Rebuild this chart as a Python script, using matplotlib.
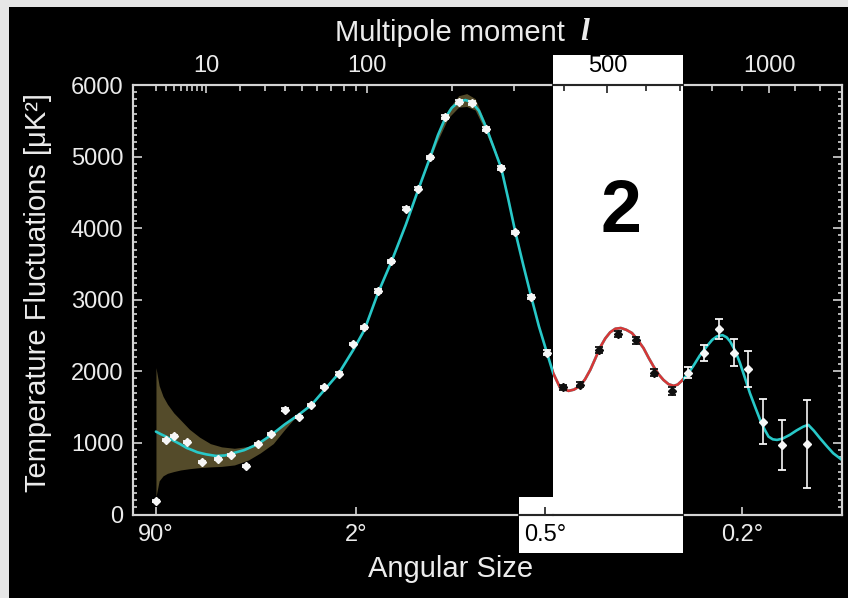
import numpy as np
import matplotlib
matplotlib.use("Agg")
import matplotlib.pyplot as plt
from matplotlib.lines import TICKDOWN, TICKUP
from matplotlib.patches import Polygon, Rectangle
from matplotlib.ticker import MultipleLocator, NullLocator

plt.rcParams['font.family'] = ['Liberation Sans', 'DejaVu Sans']

# best-fit model curve
curve_l = [2, 2.5, 3, 4, 5, 6, 7, 8, 10, 12.5,
           15, 17, 21.5, 27, 33, 40, 48, 56, 65, 76,
           88, 98, 111, 125, 141, 155, 171, 181, 191, 200,
           210, 220, 230, 241, 253, 265, 278, 290, 303, 318,
           333, 348, 364, 377, 392, 410, 422, 436, 447, 459,
           471, 483, 495, 507, 520, 534, 548, 563, 578, 594,
           608, 622, 636, 650, 665, 680, 692, 705, 722, 740,
           760, 782, 800, 815, 834, 848, 860, 877, 894, 912,
           929, 948, 966, 982, 997, 1013, 1029, 1050, 1078, 1105,
           1132, 1152, 1175, 1200, 1230, 1256, 1294]
curve_dl = [1158, 1120, 1090, 1030, 980, 930, 900, 870, 840, 818,
            825, 850, 900, 985, 1110, 1260, 1395, 1531, 1741, 1975,
            2301, 2580, 3094, 3534, 4050, 4515, 5000, 5300, 5540, 5680,
            5765, 5790, 5760, 5640, 5400, 5130, 4840, 4420, 3950, 3480,
            3040, 2630, 2263, 1975, 1765, 1727, 1745, 1800, 1890, 2020,
            2180, 2340, 2460, 2545, 2595, 2605, 2580, 2535, 2440, 2325,
            2190, 2067, 1960, 1880, 1820, 1797, 1815, 1871, 1960, 2077,
            2220, 2347, 2440, 2487, 2506, 2475, 2417, 2290, 2115, 1900,
            1695, 1500, 1322, 1190, 1088, 1050, 1042, 1060, 1112, 1175,
            1228, 1252, 1170, 1066, 950, 856, 762]

# cosmic variance band at low l
band_l = [2, 2.3, 2.7, 3.2, 4, 5, 6.5, 8.5, 11, 14, 18, 23, 28, 34, 40, 46]
band_hi = [2053, 1800, 1650, 1540, 1420, 1320, 1190, 1080, 990, 945, 925, 950, 1010, 1140, 1280, 1380]
band_lo = [249, 470, 540, 575, 600, 622, 640, 655, 665, 672, 692, 760, 860, 990, 1190, 1360]

# band around the first peak
peak_l = [160, 180, 195, 210, 222, 235, 250, 265, 280]
peak_hi = [4720, 5290, 5660, 5850, 5880, 5810, 5500, 5160, 4820]
peak_lo = [4680, 5210, 5540, 5690, 5700, 5650, 5380, 5080, 4780]

# binned measurements
data_l = [2, 3, 4, 6, 9, 13, 17, 22, 27, 33,
          40, 48, 56, 65, 76, 88, 98, 111, 125, 141,
          155, 171, 191, 210, 230, 253, 278, 303, 333, 364,
          398, 436, 479, 526, 574, 624, 675, 724, 775, 824,
          874, 922, 975, 1049, 1148]
data_dl = [193, 1038, 1098, 1010, 730, 776, 832, 683, 982, 1130,
           1466, 1368, 1527, 1783, 1969, 2380, 2613, 3126, 3536, 4273,
           4552, 4990, 5555, 5765, 5751, 5387, 4842, 3941, 3038, 2263,
           1779, 1816, 2301, 2524, 2431, 1983, 1731, 1983, 2254, 2590,
           2263, 2035, 1298, 972, 986]
data_err = [15, 15, 15, 15, 15, 15, 15, 15, 15, 15,
            15, 15, 15, 15, 15, 15, 15, 25, 25, 25,
            25, 25, 25, 25, 25, 25, 25, 25, 25, 30,
            35, 35, 40, 40, 45, 50, 55, 77, 112, 140,
            193, 250, 320, 345, 618]

bottom_ticks = [2, 90, 360, 900]
bottom_labels = ['90°', '2°', '0.5°', '0.2°']
top_ticks = [10, 100, 500, 1000]
top_labels = ['10', '100', '500', '1000']
top_minor = [2, 3, 4, 5, 6, 7, 8, 9, 20, 30, 40, 50, 60, 70, 80, 90,
             200, 300, 400, 600, 700, 800, 900, 1100, 1200]

CYAN = '#28c8c8'
RED = '#d73737'
BAND = '#544b2a'
LIGHT = '#d4d4d4'
DARK = '#262626'
W, H = 848, 598
XLIM = (0.53, 1294)


def fwd(x):
    return np.sign(x) * np.abs(x) ** 0.4


def inv(x):
    return np.sign(x) * np.abs(x) ** 2.5


def px_rect(x0, x1, y0, y1):
    # pixel box (y down from the top) -> figure fraction rect
    return [x0 / W, 1 - y1 / H, (x1 - x0) / W, (y1 - y0) / H]


fig = plt.figure(figsize=(W / 100, H / 100), dpi=100, facecolor='#e6e6e6')
fig.add_artist(Rectangle((9 / W, 0), 1, 1 - 7 / H, transform=fig.transFigure,
                         facecolor='black', edgecolor='none', zorder=-3))

# the colour-inverted highlight around the second peak
box_px = [(519, 497), (553, 497), (553, 55), (683, 55), (683, 553), (519, 553)]
box = Polygon([(x / W, 1 - y / H) for x, y in box_px], closed=True,
              transform=fig.transFigure, facecolor='white', edgecolor='none', zorder=-2)
fig.add_artist(box)

# main plot
ax = fig.add_axes(px_rect(133, 842, 85, 514.5))
ax.set_facecolor('none')
ax.set_xscale('function', functions=(fwd, inv))
top = ax.twiny()
top.set_xscale('function', functions=(fwd, inv))

ax.set_xticks(bottom_ticks, bottom_labels)
ax.xaxis.set_minor_locator(NullLocator())
ax.yaxis.set_major_locator(MultipleLocator(1000))
ax.yaxis.set_minor_locator(MultipleLocator(100))
ax.tick_params(which='both', direction='in', color=LIGHT, width=1.2,
               labelsize=17, labelcolor='#ececec')
ax.tick_params(axis='x', which='major', length=6, pad=7)
ax.tick_params(axis='y', which='major', length=6.5, pad=7, left=True, right=True)
ax.tick_params(axis='y', which='minor', length=3, left=True, right=True)
top.set_xticks(top_ticks, top_labels)
top.set_xticks(top_minor, minor=True)
top.tick_params(which='both', direction='in', color=LIGHT, width=1.2,
                labelsize=17, labelcolor='#ececec', pad=6)
top.tick_params(which='major', length=5.5)
top.tick_params(which='minor', length=4.5)
for a in (ax, top):
    for s in a.spines.values():
        s.set_color(LIGHT)
        s.set_linewidth(1.5)
ax.set_xlim(*XLIM)
top.set_xlim(*XLIM)
ax.set_ylim(0, 6000)

ax.fill_between(band_l, band_lo, band_hi, color=BAND, lw=0)
ax.fill_between(peak_l, peak_lo, peak_hi, color=BAND, lw=0)
ax.plot(curve_l, curve_dl, color=CYAN, lw=1.9, solid_capstyle='round')
ax.errorbar(data_l, data_dl, yerr=data_err, fmt='D', ms=4, color='#f6f6f6',
            ecolor='#f6f6f6', elinewidth=1.2, capsize=3.2, capthick=1.3)
ax.get_xticklabels()[2].set_color('black')
top.get_xticklabels()[2].set_color('black')


def inverted_panel(x0, x1, y0, y1, sides):
    # same data space as the main axes, restricted to a pixel box,
    # with its frame and ticks redrawn dark
    to_data = ax.transData.inverted()
    lo = to_data.transform((x0, H - y1))
    hi = to_data.transform((x1, H - y0))
    a = fig.add_axes(px_rect(x0, x1, y0, y1))
    a.set_axis_off()
    a.set_xscale('function', functions=(fwd, inv))
    a.set_xlim(lo[0], hi[0])
    a.set_ylim(lo[1], hi[1])
    if 'top' in sides:
        a.axhline(hi[1], color=DARK, lw=1.5, clip_on=False)
        inside = [l for l in top_ticks if lo[0] <= l <= hi[0]]
        a.plot(inside, [hi[1]] * len(inside), ls='none', marker=TICKDOWN,
               ms=5.5, mew=1.2, color=DARK, clip_on=False)
        inside = [l for l in top_minor if lo[0] <= l <= hi[0]]
        a.plot(inside, [hi[1]] * len(inside), ls='none', marker=TICKDOWN,
               ms=4.5, mew=1.2, color=DARK, clip_on=False)
    if 'bottom' in sides:
        a.axhline(lo[1], color=DARK, lw=1.5, clip_on=False)
        inside = [l for l in bottom_ticks if lo[0] <= l <= hi[0]]
        a.plot(inside, [lo[1]] * len(inside), ls='none', marker=TICKUP,
               ms=6, mew=1.2, color=DARK, clip_on=False)
    return a


inv_main = inverted_panel(553, 683, 85, 514.5, ('top', 'bottom'))
inv_main.plot(curve_l, curve_dl, color=RED, lw=1.9)
inv_main.errorbar(data_l, data_dl, yerr=data_err, fmt='D', ms=4, color='#101010',
                  ecolor='#101010', elinewidth=1.2, capsize=3.2, capthick=1.3)
inverted_panel(519, 553, 497, 514.5, ('bottom',))

fig.text(335 / W, 1 - 33 / H, 'Multipole moment', color='#ececec', fontsize=21,
         ha='left', va='center')
fig.text(580 / W, 1 - 32 / H, 'l', color='#ececec', fontsize=23, ha='left', va='center',
         family='Liberation Serif', style='italic', weight='bold')
fig.text(451 / W, 1 - 569 / H, 'Angular Size', color='#ececec', fontsize=21,
         ha='center', va='center')
fig.text(38 / W, 1 - 292 / H, 'Temperature Fluctuations [μK²]', color='#ececec',
         fontsize=21, rotation=90, ha='center', va='center')
fig.text(621 / W, 1 - 213 / H, '2', color='black', fontsize=53, fontweight='bold',
         ha='center', va='center')

fig.savefig('out.png', dpi=100, facecolor=fig.get_facecolor())
